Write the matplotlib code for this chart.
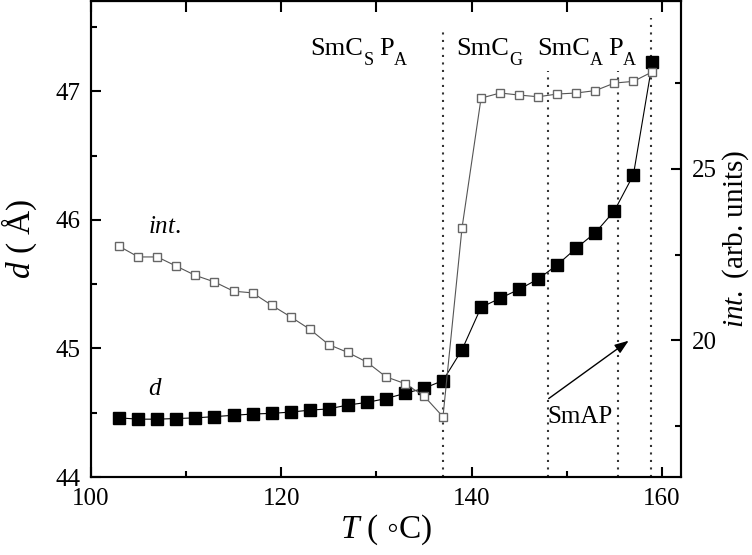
import matplotlib
matplotlib.use("Agg")
import matplotlib.pyplot as plt
from matplotlib.ticker import MultipleLocator

plt.rcParams['font.family'] = ['Liberation Serif', 'DejaVu Serif']
plt.rcParams['mathtext.fontset'] = 'custom'
plt.rcParams['mathtext.rm'] = 'Liberation Serif'
plt.rcParams['mathtext.it'] = 'Liberation Serif:italic'
plt.rcParams['mathtext.bf'] = 'Liberation Serif:bold'

# ---- data ----
temps = [103, 105, 107, 109, 111, 113, 115, 117, 119, 121, 123, 125, 127, 129,
         131, 133, 135, 137, 139, 141, 143, 145, 147, 149, 151, 153, 155, 157, 159]
d_spacing = [44.46, 44.45, 44.45, 44.455, 44.46, 44.47, 44.48, 44.49, 44.495,
             44.505, 44.52, 44.53, 44.56, 44.58, 44.61, 44.65, 44.69, 44.75,
             44.99, 45.32, 45.39, 45.46, 45.54, 45.65, 45.78, 45.90, 46.07,
             46.35, 47.23]
intensity = [22.74, 22.43, 22.43, 22.16, 21.89, 21.70, 21.43, 21.38, 21.02,
             20.68, 20.32, 19.87, 19.64, 19.36, 18.93, 18.73, 18.37, 17.76,
             23.28, 27.07, 27.22, 27.16, 27.11, 27.19, 27.22, 27.29, 27.51,
             27.56, 27.84]
transitions = [137.0, 148.0, 155.4, 158.9]
transition_tops = [47.46, 47.16, 47.16, 47.57]
phase_labels = [
    (123.1, [('SmC', False), ('S', True), ('P', False), ('A', True)]),
    (138.4, [('SmC', False), ('G', True)]),
    (146.85, [('SmC', False), ('A', True), ('P', False), ('A', True)]),
]

fig = plt.figure(figsize=(7.52, 5.55), dpi=100)
ax = fig.add_axes([0.1206, 0.1405, 0.7850, 0.8572])
ax2 = ax.twinx()

# dotted transition lines
for x, top in zip(transitions, transition_tops):
    ax.plot([x, x], [44, top], color='#333333', lw=1.5,
            linestyle=(0, (1, 2.6)), zorder=1)

ax.plot(temps, d_spacing, color='black', lw=0.8, marker='s', markersize=9.2,
        markerfacecolor='black', markeredgecolor='black', zorder=3)
ax2.plot(temps, intensity, color='#555555', lw=0.8, marker='s', markersize=5.8,
         markerfacecolor='white', markeredgecolor='#666666',
         markeredgewidth=1.0, zorder=3)

ax.set_xlim(100, 162)
ax.set_ylim(44, 47.7)
ax2.set_ylim(16, 29.9)

ax.xaxis.set_major_locator(MultipleLocator(20))
ax.xaxis.set_minor_locator(MultipleLocator(10))
ax.yaxis.set_major_locator(MultipleLocator(1))
ax.yaxis.set_minor_locator(MultipleLocator(0.5))
ax2.yaxis.set_major_locator(MultipleLocator(5))
ax2.yaxis.set_minor_locator(MultipleLocator(2.5))

for a in (ax, ax2):
    for s in a.spines.values():
        s.set_linewidth(1.5)

ax.tick_params(axis='x', which='both', direction='in', top=False,
               labelsize=18, pad=8, width=1.5)
ax.tick_params(axis='x', which='major', length=7)
ax.tick_params(axis='x', which='minor', length=4)
ax.tick_params(axis='y', which='both', direction='in', right=False,
               labelsize=18, pad=7, width=1.5)
ax.tick_params(axis='y', which='major', length=7)
ax.tick_params(axis='y', which='minor', length=4)
ax2.tick_params(axis='y', which='both', direction='in', labelsize=18,
                pad=8, width=1.5)
ax2.tick_params(axis='y', which='major', length=7)
ax2.tick_params(axis='y', which='minor', length=4)

# top ticks (no labels) every 10
sec = ax.secondary_xaxis('top')
sec.xaxis.set_major_locator(MultipleLocator(10))
sec.tick_params(direction='in', length=8, width=1.5, labeltop=False)
sec.spines['top'].set_linewidth(1.5)

ax.set_xlabel('$T$ ( \u25e6C)', fontsize=24, labelpad=2)
ax.set_ylabel('$d$ ( Å)', fontsize=24, labelpad=12)
ax2.set_ylabel('$int.$ (arb. units)', fontsize=21, labelpad=2)


def phase_label(x, y, parts, size=19, subsize=13, drop=-6.5):
    prev = None
    main0 = None
    for s, is_sub in parts:
        if prev is None:
            t = ax.text(x, y, s, fontsize=size)
            main0 = t
        else:
            gap = 0.3 if is_sub else 3.5
            dy = drop if is_sub else 0
            t = ax.annotate(s, xy=(1, 0), xycoords=(prev, main0),
                            xytext=(gap, dy), textcoords='offset points',
                            fontsize=subsize if is_sub else size,
                            ha='left', va='bottom')
        prev = t


for x, parts in phase_labels:
    phase_label(x, 47.28, parts)

ax.text(106.0, 45.90, '$int.$', fontsize=18)
ax.text(106.0, 44.64, '$d$', fontsize=18)
ax.text(148.0, 44.42, 'SmAP', fontsize=18)
ax.annotate('', xy=(156.5, 45.06), xytext=(148.1, 44.61),
            arrowprops=dict(arrowstyle='-|>,head_length=0.6,head_width=0.22',
                            color='black', lw=1.0,
                            mutation_scale=14, shrinkA=0, shrinkB=0))

fig.savefig('out.png', dpi=100)
